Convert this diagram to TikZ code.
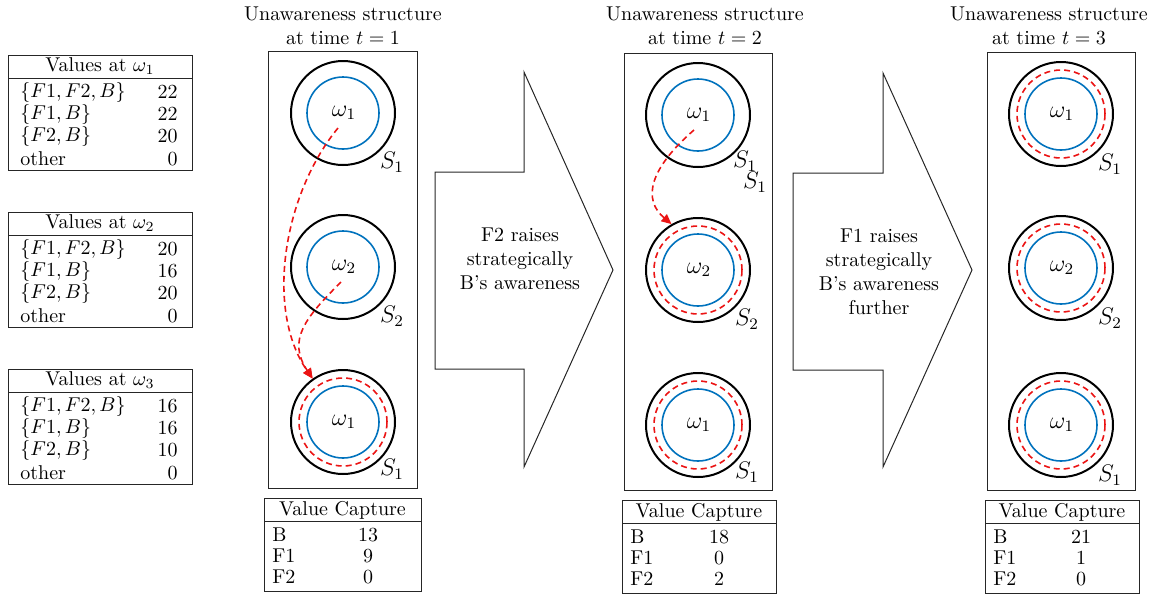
\documentclass[tikz,border=0pt]{standalone}
\usetikzlibrary{arrows.meta,calc}
\definecolor{cblue}{RGB}{0,114,189}
\definecolor{cred}{RGB}{235,20,20}
\begin{document}
\begin{tikzpicture}[x=0.5pt,y=-0.5pt,
  blk/.style={circle,draw=black,line width=1pt,minimum size=52pt,inner sep=0pt},
  blu/.style={circle,draw=cblue,line width=0.8pt,minimum size=36pt,inner sep=0pt},
  rdc/.style={circle,draw=cred,line width=0.8pt,dash pattern=on 3pt off 2pt,minimum size=44pt,inner sep=0pt},
  rda/.style={draw=cred,line width=0.8pt,dash pattern=on 3pt off 2pt,-{Triangle[length=5pt,width=4.5pt]}},
  frame/.style={draw=black!85,line width=0.5pt},
  ttl/.style={align=center,font=\normalsize},
  lab/.style={font=\large,inner sep=1pt},
  ctext/.style={inner sep=1pt},
  ltext/.style={anchor=west,inner sep=0pt},
  rtext/.style={anchor=east,inner sep=0pt}
]
\useasboundingbox (0,0) rectangle (1153,596);

% ---------- left value tables ----------
\foreach \k/\w/\a/\b/\c/\d in {0/1/22/22/20/0, 1/2/20/16/20/0, 2/3/16/16/10/0}{
  \pgfmathsetmacro{\T}{55+157*\k}
  \draw[frame] (8,\T) rectangle (192,\T+115);
  \draw[frame] (8,\T+23) -- (192,\T+23);
  \node[ctext] (vh\w) at (100,\T+11.5) {Values at $\omega_{\w}$};
  \node[ltext] (vl1\w) at (20,\T+37) {$\{F1,F2,B\}$};
  \node[ltext] (vl2\w) at (20,\T+59) {$\{F1,B\}$};
  \node[ltext] (vl3\w) at (20,\T+81) {$\{F2,B\}$};
  \node[ltext] (vl4\w) at (20,\T+104) {other};
  \node[rtext] (vr1\w) at (178,\T+37) {\a};
  \node[rtext] (vr2\w) at (178,\T+59) {\b};
  \node[rtext] (vr3\w) at (178,\T+81) {\c};
  \node[rtext] (vr4\w) at (178,\T+104) {\d};
}

% ---------- titles ----------
\node[ttl] (t1) at (343,26) {Unawareness structure\\at time $t=1$};
\node[ttl] (t2) at (705,26) {Unawareness structure\\at time $t=2$};
\node[ttl] (t3) at (1049,26) {Unawareness structure\\at time $t=3$};

% ---------- panel frames ----------
\draw[frame] (268,51) rectangle (417,488);
\draw[frame] (624,53) rectangle (772,490);
\draw[frame] (987,52) rectangle (1135,490);

% ---------- panel 1 ----------
\node[blk] (c11) at (343,113) {};
\node[blu] (b11) at (343,113) {};
\node[lab] (w11) at (344,113) {$\omega_1$};
\node[lab] (s11) at (392,162) {$S_1$};
\node[blk] (c12) at (343,267) {};
\node[blu] (b12) at (343,267) {};
\node[lab] (w12) at (344,267) {$\omega_2$};
\node[lab] (s12) at (392,316) {$S_2$};
\node[blk] (c13) at (343,422) {};
\node[rdc] (r13) at (343,422) {};
\node[blu] (b13) at (343,422) {};
\node[lab] (w13) at (344,422) {$\omega_1$};
\node[lab] (s13) at (392,469) {$S_1$};
\draw[rda] ([shift={(-6,15)}]w11.center) .. controls (283,195) and (265,310) .. (c13.125);
\draw[rda] ([shift={(-3,15)}]w12.center) .. controls (305,318) and (287,340) .. (c13.125);

% ---------- panel 2 ----------
\node[blk] (c21) at (698,115) {};
\node[blu] (b21) at (698,115) {};
\node[lab] (w21) at (699,115) {$\omega_1$};
\node[lab] (s21) at (745,161) {$S_1$};
\node[lab] (s21b) at (755,182) {$S_1$};
\node[blk] (c22) at (698,270) {};
\node[rdc] (r22) at (698,270) {};
\node[blu] (b22) at (698,270) {};
\node[lab] (w22) at (699,270) {$\omega_2$};
\node[lab] (s22) at (747,319) {$S_2$};
\node[blk] (c23) at (698,425) {};
\node[rdc] (r23) at (698,425) {};
\node[blu] (b23) at (698,425) {};
\node[lab] (w23) at (699,425) {$\omega_1$};
\node[lab] (s23) at (747,472) {$S_1$};
\draw[rda] ([shift={(-5,15)}]w21.center) .. controls (648,170) and (643,200) .. (c22.120);

% ---------- panel 3 ----------
\foreach \i/\y/\w/\s in {1/114/1/1, 2/268/2/2, 3/425/1/1}{
  \node[blk] (c3\i) at (1061,\y) {};
  \node[rdc] (r3\i) at (1061,\y) {};
  \node[blu] (b3\i) at (1061,\y) {};
  \node[lab] (w3\i) at (1062,\y) {$\omega_{\w}$};
  \node[lab] (s3\i) at (1110,\y+50) {$S_{\s}$};
}

% ---------- big arrows ----------
\draw[frame] (435,172) -- (524,172) -- (524,72) -- (613,270) -- (524,467) -- (524,369) -- (435,369) -- cycle;
\node[align=center] (a1) at (520,259) {F2 raises\\strategically\\B's awareness};
\draw[frame] (793,173) -- (883,173) -- (883,73) -- (972,270) -- (883,467) -- (883,370) -- (793,370) -- cycle;
\node[align=center] (a2) at (879,272) {F1 raises\\strategically\\B's awareness\\further};

% ---------- value capture tables ----------
\foreach \k/\L/\R/\T/\N/\p/\q/\r in {1/264/421/498/368/13/9/0, 2/622/776/500/719/18/0/2, 3/985/1139/500/1081/21/1/0}{
  \draw[frame] (\L,\T) rectangle (\R,\T+93);
  \draw[frame] (\L,\T+23) -- (\R,\T+23);
  \node[ctext] (vc\k) at ({(\L+\R)/2},\T+12) {Value Capture};
  \node[ltext] (vb\k) at (\L+8,\T+37) {B};
  \node[ltext] (vf\k) at (\L+8,\T+58) {F1};
  \node[ltext] (vg\k) at (\L+8,\T+79) {F2};
  \node[ctext] (nb\k) at (\N,\T+37) {\p};
  \node[ctext] (nf\k) at (\N,\T+58) {\q};
  \node[ctext] (ng\k) at (\N,\T+79) {\r};
}
\end{tikzpicture}
\end{document}
